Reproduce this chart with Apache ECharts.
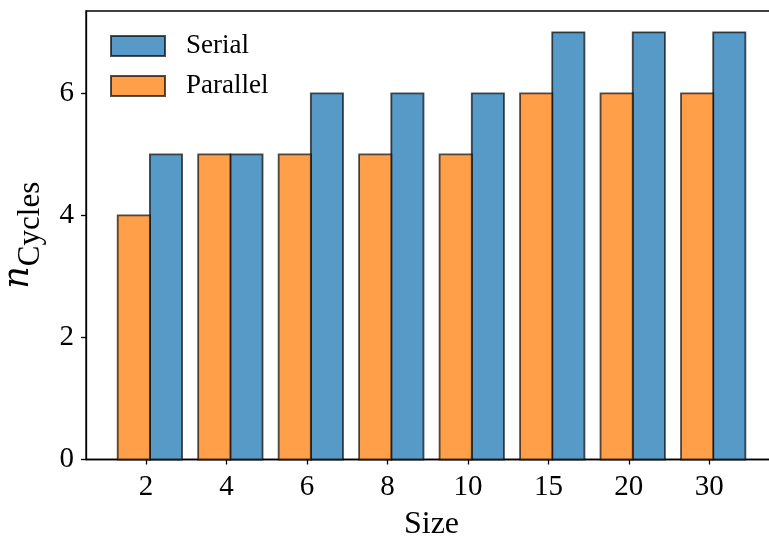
<!DOCTYPE html>
<html>
<head>
<meta charset="utf-8">
<script src="https://cdn.jsdelivr.net/npm/echarts@6/dist/echarts.min.js"></script>
<style>html,body{margin:0;padding:0;background:#fff;}#c{width:769px;height:539px;}</style>
</head>
<body>
<div id="c"></div>
<script>
const categories = ['2', '4', '6', '8', '10', '15', '20', '30'];
const serial = [5, 5, 6, 6, 6, 7, 7, 7];
const parallel = [4, 5, 5, 5, 5, 6, 6, 6];
const yTicks = [0, 2, 4, 6];

const FONT = 'Liberation Serif';
const BAR_W = 0.4;
const PAR_OFF = -0.352;
const SER_OFF = 0.048;

function makeRender(off) {
  return function (params, api) {
    const i = api.value(0), v = api.value(1);
    const p0 = api.coord([i + off, v]);
    const p1 = api.coord([i + off + BAR_W, 0]);
    return {
      type: 'rect',
      shape: { x: p0[0], y: p0[1], width: p1[0] - p0[0], height: p1[1] - p0[1] },
      style: api.style()
    };
  };
}

const chart = echarts.init(document.getElementById('c'), null, { renderer: 'canvas' });
chart.setOption({
  animation: false,
  backgroundColor: '#fff',
  grid: { left: 86, right: -8, top: 11, bottom: 79.5, show: true, borderColor: '#000', borderWidth: 1.3, containLabel: false, outerBoundsMode: 'none' },
  legend: {
    orient: 'vertical', left: 110, top: 32.5, itemWidth: 54, itemHeight: 20, itemGap: 13, padding: 0,
    data: [{ name: 'Serial', icon: 'rect' }, { name: 'Parallel', icon: 'rect' }],
    textStyle: { fontFamily: FONT, fontSize: 27, color: '#000', padding: [0, 0, 0, 16] }
  },
  xAxis: {
    type: 'value', min: -0.746, max: 7.841,
    name: 'Size', nameLocation: 'middle', nameGap: 49,
    nameTextStyle: { fontFamily: FONT, fontSize: 32, color: '#000' },
    axisLine: { show: true, onZero: false, lineStyle: { color: '#000', width: 1.3 } },
    axisTick: { show: true, inside: false, length: 5, lineStyle: { color: '#000', width: 1.3 }, customValues: categories.map((c, i) => i) },
    axisLabel: { fontFamily: FONT, fontSize: 29, color: '#000', margin: 13, customValues: categories.map((c, i) => i), formatter: v => categories[Math.round(v)] },
    splitLine: { show: false }
  },
  yAxis: {
    type: 'value', min: 0, max: 7.35, interval: 2,
    name: '{n|n}{s|Cycles}', nameLocation: 'middle', nameGap: 50, nameRotate: 90,
    nameTextStyle: {
      rich: {
        n: { fontFamily: 'DejaVu Serif', fontStyle: 'italic', fontSize: 35, color: '#000', verticalAlign: 'bottom' },
        s: { fontFamily: FONT, fontSize: 31, color: '#000', verticalAlign: 'bottom', padding: [0, 0, -10, 0] }
      }
    },
    axisLine: { show: true, onZero: false, lineStyle: { color: '#000', width: 1.3 } },
    axisTick: { show: true, inside: false, length: 5, lineStyle: { color: '#000', width: 1.3 }, customValues: yTicks },
    axisLabel: { fontFamily: FONT, fontSize: 29, color: '#000', margin: 12, customValues: yTicks },
    splitLine: { show: false }
  },
  series: [
    {
      name: 'Serial', type: 'custom', renderItem: makeRender(SER_OFF),
      data: serial.map((v, i) => [i, v]),
      encode: { x: 0, y: 1 },
      itemStyle: { color: '#5799c7', borderColor: 'rgba(0,0,0,0.68)', borderWidth: 1.8 }
    },
    {
      name: 'Parallel', type: 'custom', renderItem: makeRender(PAR_OFF),
      data: parallel.map((v, i) => [i, v]),
      encode: { x: 0, y: 1 },
      itemStyle: { color: '#ff9f4a', borderColor: 'rgba(0,0,0,0.68)', borderWidth: 1.8 }
    }
  ]
});
</script>
</body>
</html>
